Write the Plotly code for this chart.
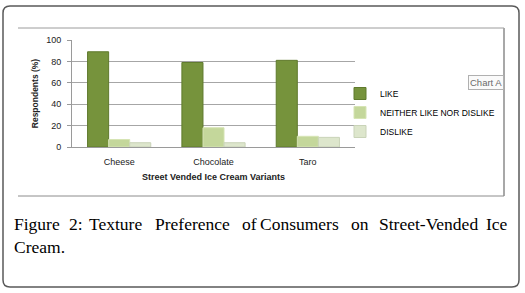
import plotly.graph_objects as go

categories = ["Cheese", "Chocolate", "Taro"]
like = [89, 79, 81]
neither = [7, 18, 10]
dislike = [4, 4, 9]
series_names = ["LIKE", "NEITHER LIKE NOR DISLIKE", "DISLIKE"]
y_ticks = [0, 20, 40, 60, 80, 100]
caption_words = ["Figure", "2:", "Texture", "Preference", "of", "Consumers", "on", "Street-Vended", "Ice"]
caption_line2 = "Cream."

W, H = 525, 293
L, R, T, B = 72, 355, 40, 147


def px(x):
    return (x - L) / (R - L)


def py(y):
    return (B - y) / (B - T)


colors = ["#76933c", "#c4d79b", "#dde6cc"]
lines = ["#5f7a2c", "#d6e4b4", "#c9d3b8"]

fig = go.Figure()
for name, vals, c, lc in zip(series_names, [like, neither, dislike], colors, lines):
    fig.add_trace(go.Bar(x=categories, y=vals, name=name,
                         marker=dict(color=c, line=dict(color=lc, width=1))))

fig.update_layout(
    width=W, height=H,
    margin=dict(l=L, r=W - R, t=T, b=H - B, pad=0),
    paper_bgcolor="white", plot_bgcolor="white",
    barmode="group", bargap=0.33, bargroupgap=0,
    font=dict(family="Liberation Sans, Arial, sans-serif", size=9, color="#222"),
    showlegend=True,
    legend=dict(x=px(340), xanchor="left", y=py(79), yanchor="top",
                font=dict(size=8.5, color="#000"), bgcolor="rgba(0,0,0,0)",
                itemwidth=30, tracegroupgap=0),
)
fig.update_yaxes(range=[0, 100], tickvals=y_ticks, showgrid=True, gridcolor="#a6a6a6",
                 gridwidth=1, showline=True, linecolor="#9a9a9a", ticks="outside",
                 ticklen=4, tickcolor="#9a9a9a", zeroline=False, ticklabelstandoff=4,
                 title=dict(text="<b>Respondents (%)</b>", font=dict(size=8.5), standoff=6),
                 automargin=False)
fig.update_xaxes(showline=True, linecolor="#9a9a9a", ticks="", ticklabelstandoff=6,
                 title=dict(text="<b>Street Vended Ice Cream Variants</b>", font=dict(size=9), standoff=7),
                 automargin=False)

shapes = []
# outer rounded frame
x0, x1, y0, y1, r = 3, 519, 6, 287, 7
path = (f"M {px(x0+r)},{py(y0)} L {px(x1-r)},{py(y0)} Q {px(x1)},{py(y0)} {px(x1)},{py(y0+r)} "
        f"L {px(x1)},{py(y1-r)} Q {px(x1)},{py(y1)} {px(x1-r)},{py(y1)} "
        f"L {px(x0+r)},{py(y1)} Q {px(x0)},{py(y1)} {px(x0)},{py(y1-r)} "
        f"L {px(x0)},{py(y0+r)} Q {px(x0)},{py(y0)} {px(x0+r)},{py(y0)} Z")
shapes.append(dict(type="path", path=path, xref="paper", yref="paper",
                   line=dict(color="#5a5a5a", width=1.5)))
# inner chart frame
for (ax, ay, bx, by, col, w) in [(18, 28, 504, 28, "#9c9c9c", 1), (504, 28, 504, 196, "#a8a8a8", 2),
                                 (18, 196, 504, 196, "#8c8c8c", 1)]:
    shapes.append(dict(type="line", xref="paper", yref="paper", x0=px(ax), y0=py(ay),
                       x1=px(bx), y1=py(by), line=dict(color=col, width=w)))
fig.update_layout(shapes=shapes)

annotations = []
annotations.append(dict(text="Chart A", x=px(468), y=py(82), xref="paper", yref="paper",
                        xanchor="left", yanchor="middle", showarrow=False,
                        font=dict(size=9.5, color="#6a6a6a"), bgcolor="#fafafa",
                        bordercolor="#b0b0b0", borderwidth=1, borderpad=1))
serif = dict(family="Liberation Serif, Times New Roman, serif", size=17.5, color="#000")
word_x = [12, 67, 87, 153, 240, 258, 349, 377, 484]
for wd, wx in zip(caption_words, word_x):
    annotations.append(dict(text=wd, x=px(wx), y=py(224), xref="paper", yref="paper",
                            xanchor="left", yanchor="middle", showarrow=False, font=serif))
annotations.append(dict(text=caption_line2, x=px(12), y=py(247), xref="paper", yref="paper",
                        xanchor="left", yanchor="middle", showarrow=False, font=serif))
fig.update_layout(annotations=annotations)

fig.write_html("out.html", config={"displayModeBar": False},
               post_script="document.body.style.margin='0';")
